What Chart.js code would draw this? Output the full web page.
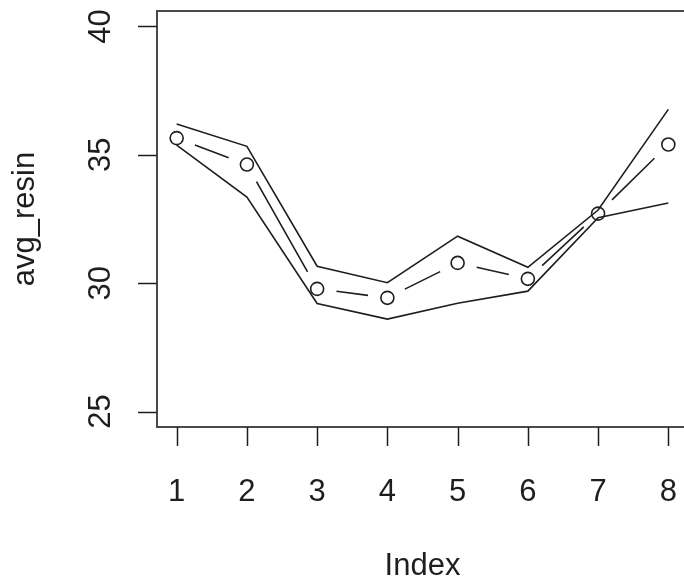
<!DOCTYPE html>
<html>
<head>
<meta charset="utf-8">
<title>avg_resin</title>
<script src="https://cdn.jsdelivr.net/npm/chart.js@4.4.1/dist/chart.umd.min.js"></script>
<style>
  html, body { margin: 0; padding: 0; background: #fff; overflow: hidden; }
  #plot { display: block; }
</style>
</head>
<body>
<canvas id="plot" width="710" height="578"></canvas>
<script>
'use strict';

// series, one value per index
const INDEX = [1, 2, 3, 4, 5, 6, 7, 8];
const AVG_RESIN = [35.65, 34.62, 29.78, 29.43, 30.79, 30.17, 32.71, 35.40];
const UPPER = [36.20, 35.33, 30.66, 30.02, 31.83, 30.62, 32.85, 36.77];
const LOWER = [35.38, 33.35, 29.21, 28.60, 29.22, 29.69, 32.55, 33.12];

// axes
const X_TICKS = [1, 2, 3, 4, 5, 6, 7, 8];
const Y_TICKS = [25, 30, 35, 40];
const X_TITLE = 'Index';
const Y_TITLE = 'avg_resin';

const FONT = '31px "Liberation Sans", Arial, sans-serif';
const INK = '#1e1e1e';

const toPoints = (ys) => ys.map((y, i) => ({ x: INDEX[i], y }));

// type = "b": segments that stop short of each point marker
const gapLines = {
  id: 'gapLines',
  afterDatasetsDraw(chart) {
    const { ctx, chartArea: a } = chart;
    const GAP = 19.5;
    chart.data.datasets.forEach((ds, di) => {
      if (!ds.gapLines) return;
      const pts = chart.getDatasetMeta(di).data;
      ctx.save();
      ctx.beginPath();
      ctx.rect(a.left, a.top, a.right - a.left, a.bottom - a.top);
      ctx.clip();
      ctx.strokeStyle = ds.borderColor;
      ctx.lineWidth = ds.borderWidth;
      ctx.beginPath();
      for (let i = 0; i < pts.length - 1; i++) {
        const p = pts[i], q = pts[i + 1];
        const dx = q.x - p.x, dy = q.y - p.y;
        const len = Math.hypot(dx, dy);
        if (len <= 2 * GAP) continue;
        const ux = dx / len, uy = dy / len;
        ctx.moveTo(p.x + ux * GAP, p.y + uy * GAP);
        ctx.lineTo(q.x - ux * GAP, q.y - uy * GAP);
      }
      ctx.stroke();
      ctx.restore();
    });
  }
};

// base-graphics style frame, outward ticks and labels
const frame = {
  id: 'frame',
  afterDraw(chart) {
    const { ctx, chartArea: a, scales: { x, y } } = chart;
    const TICK = 19;
    ctx.save();

    ctx.strokeStyle = '#4a4a4a';
    ctx.lineWidth = 2;
    ctx.strokeRect(a.left, a.top, a.right - a.left, a.bottom - a.top);

    ctx.strokeStyle = INK;
    ctx.lineWidth = 1.5;
    ctx.beginPath();
    X_TICKS.forEach((v) => {
      const px = Math.round(x.getPixelForValue(v)) + 0.5;
      ctx.moveTo(px, a.bottom);
      ctx.lineTo(px, a.bottom + TICK);
    });
    Y_TICKS.forEach((v) => {
      const py = Math.round(y.getPixelForValue(v)) + 0.5;
      ctx.moveTo(a.left, py);
      ctx.lineTo(a.left - TICK, py);
    });
    ctx.stroke();

    ctx.fillStyle = INK;
    ctx.font = FONT;
    ctx.textAlign = 'center';
    ctx.textBaseline = 'alphabetic';
    X_TICKS.forEach((v) => {
      ctx.fillText(String(v), x.getPixelForValue(v), 501);
    });
    ctx.fillText(X_TITLE, (a.left + a.right) / 2, 575);

    Y_TICKS.forEach((v) => {
      ctx.save();
      ctx.translate(110, y.getPixelForValue(v));
      ctx.rotate(-Math.PI / 2);
      ctx.fillText(String(v), 0, 0);
      ctx.restore();
    });
    ctx.save();
    ctx.translate(34, (a.top + a.bottom) / 2);
    ctx.rotate(-Math.PI / 2);
    ctx.fillText(Y_TITLE, 0, 0);
    ctx.restore();

    ctx.restore();
  }
};

new Chart(document.getElementById('plot'), {
  type: 'scatter',
  data: {
    datasets: [
      {
        label: 'avg_resin',
        data: toPoints(AVG_RESIN),
        showLine: false,
        gapLines: true,
        borderColor: INK,
        borderWidth: 1.6,
        pointStyle: 'circle',
        pointRadius: 6.5,
        pointBorderWidth: 1.6,
        pointBorderColor: INK,
        pointBackgroundColor: 'rgba(0,0,0,0)'
      },
      {
        label: 'upper',
        data: toPoints(UPPER),
        showLine: true,
        borderColor: INK,
        borderWidth: 1.6,
        pointRadius: 0,
        tension: 0
      },
      {
        label: 'lower',
        data: toPoints(LOWER),
        showLine: true,
        borderColor: INK,
        borderWidth: 1.6,
        pointRadius: 0,
        tension: 0
      }
    ]
  },
  options: {
    responsive: false,
    animation: false,
    devicePixelRatio: 1,
    layout: { padding: { left: 157, top: 11, right: 22, bottom: 151 } },
    plugins: { legend: { display: false }, tooltip: { enabled: false } },
    scales: {
      x: { type: 'linear', min: 0.72, max: 8.28, display: false },
      y: { type: 'linear', min: 24.4, max: 40.6, display: false }
    }
  },
  plugins: [gapLines, frame]
});
</script>
</body>
</html>
